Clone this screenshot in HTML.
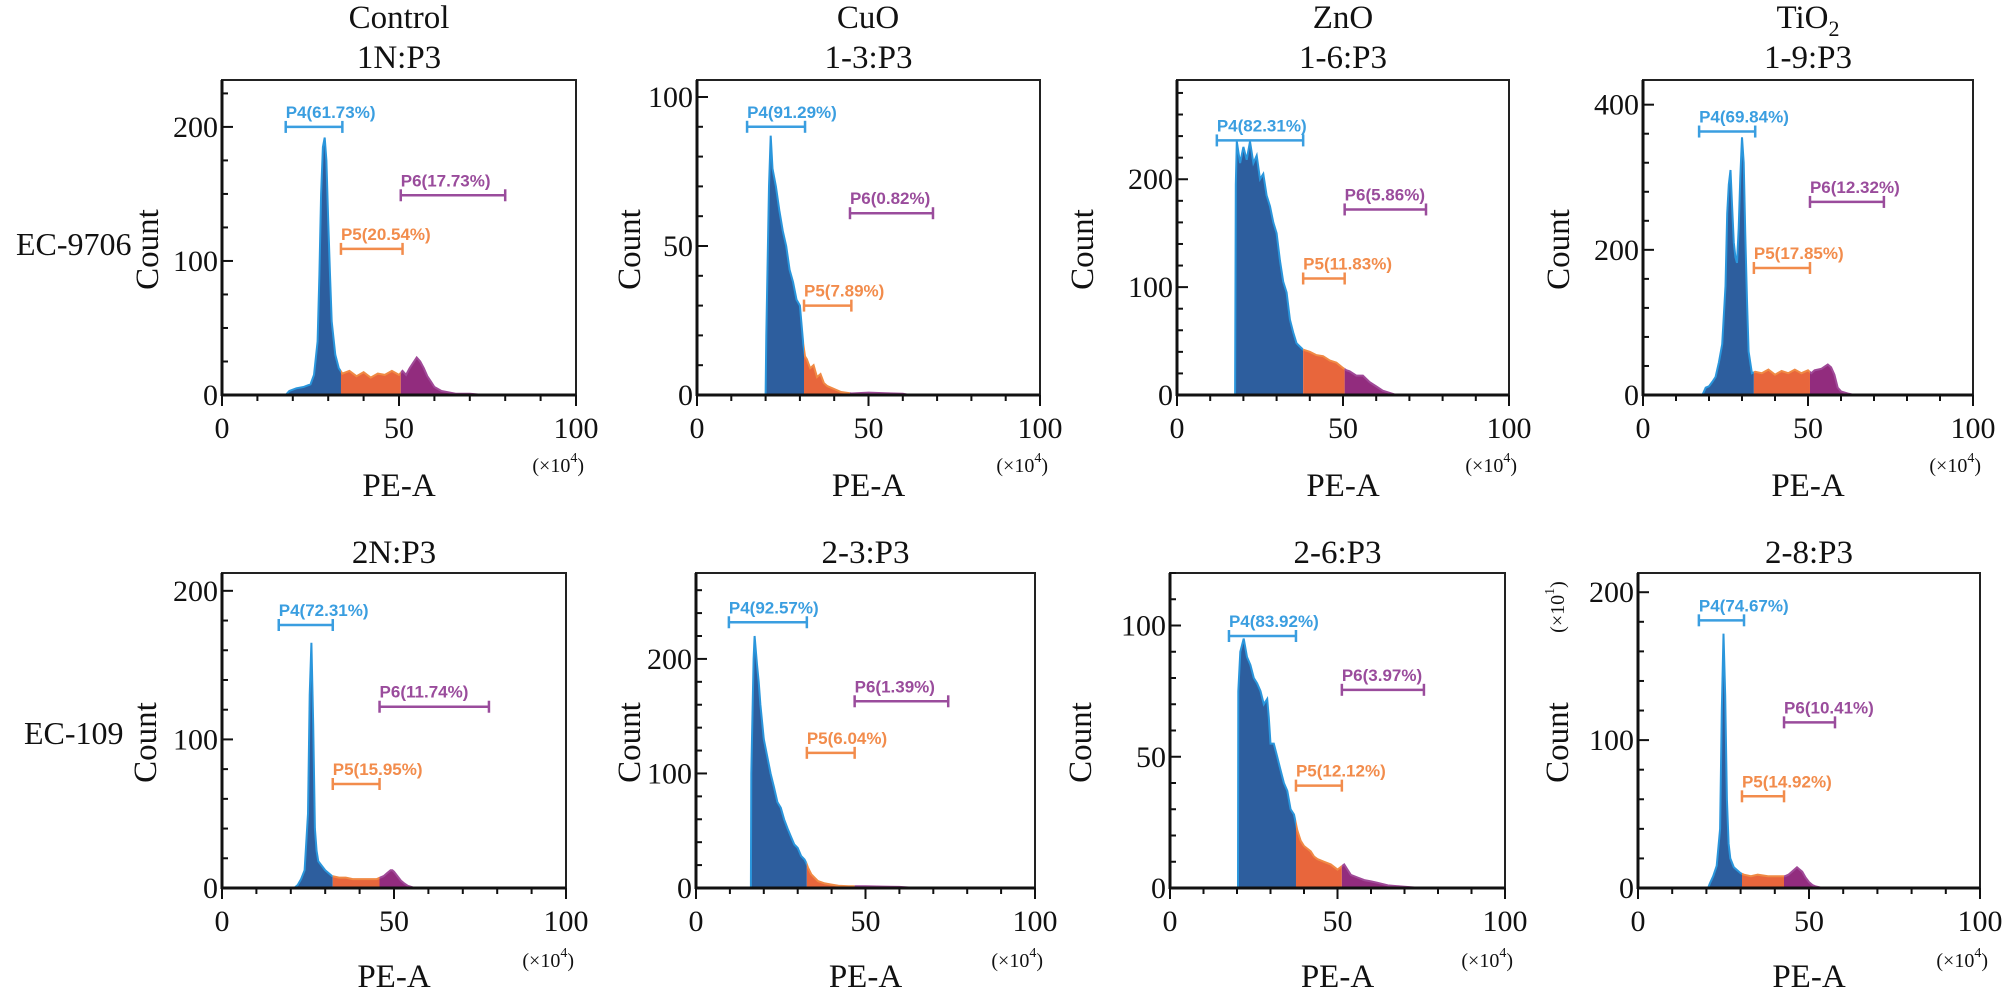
<!DOCTYPE html>
<html><head><meta charset="utf-8">
<style>
html,body{margin:0;padding:0;background:#fff;}
svg{display:block;}
.serif{font-family:"Liberation Serif",serif;fill:#111;}
.gate{font-family:"Liberation Sans",sans-serif;font-weight:bold;font-size:17px;}
</style></head>
<body>
<svg id="fig" width="2003" height="988" viewBox="0 0 2003 988" xmlns="http://www.w3.org/2000/svg">
<text class="serif" x="16" y="255" font-size="32">EC-9706</text>
<text class="serif" x="24" y="744" font-size="32">EC-109</text>
<text class="serif" x="399" y="28" font-size="33" text-anchor="middle">Control</text>
<text class="serif" x="868" y="28" font-size="33" text-anchor="middle">CuO</text>
<text class="serif" x="1343" y="28" font-size="33" text-anchor="middle">ZnO</text>
<text class="serif" x="1808" y="28" font-size="33" text-anchor="middle">TiO<tspan font-size="22" dy="8">2</tspan></text>
<g id="panels"></g>
</svg>
<script>
// ---- data (x in ×10^4 PE-A units, y in counts) ----
const xTickValues = [0, 50, 100];
const r1p1X = [18,19,21,23,25,26,27,27.5,28,28.5,29,29.5,30,30.5,31,32,33,34,36,38,40,42,44,46,48,50,51,52,53,54,55,56,57,58,59,60,62,64,66,70,74];
const r1p1Y = [0,3,5,6,8,15,40,90,150,185,192,175,130,90,55,30,20,16,18,14,17,13,16,15,18,15,18,15,20,24,28,25,20,14,10,6,3,2,1,1,0];
const r1p2X = [20,20.2,21,21.5,22,23,24,25,26,27,28,29,30,31,31.5,32,33,34,35,36,37,38,40,42,45,50,55,60,62];
const r1p2Y = [0,20,70,87,76,70,62,55,50,42,38,32,30,17,13,12,9,10,6,7,4,3,2,1,0.5,0.8,0.6,0.4,0];
const r1p3X = [17.5,17.7,18,19,20,21,22,23,24,25,26,27,28,29,30,31,32,33,34,35,36,37,38,40,42,44,46,48,50,51,52,54,56,58,60,62,64,66];
const r1p3Y = [0,195,235,215,230,218,235,215,222,200,205,185,175,160,150,125,105,95,70,58,48,45,42,40,37,36,32,30,25,23,22,18,18,12,8,4,2,0];
const r1p4X = [18,19,20,21,22,23,24,25,25.5,26,26.5,27,27.5,28,28.5,29,29.5,30,30.5,31,31.5,32,33,34,36,38,40,42,44,46,48,50,51,52,54,56,57,58,59,60,62,64];
const r1p4Y = [0,10,12,18,25,45,70,150,250,290,310,260,210,190,182,230,300,355,320,220,130,60,30,32,30,35,28,33,30,35,30,34,30,34,36,42,38,28,10,5,2,0];
const r2p1X = [21,22,23,24,25,25.5,26,26.5,27,27.5,28,30,31,32,34,36,38,40,42,44,45,46,47,48,49,49.5,50,51,52,53,54,56];
const r2p1Y = [0,2,6,12,50,130,165,110,40,25,18,12,10,8,7,7,6,6,6,6,6,7,8,10,12,12,11,8,5,3,1.5,0];
const r2p2X = [16.2,16.3,17,17.3,18,18.5,19,20,21,22,23,24,25,26,27,28,29,30,31,32,32.5,33,34,35,36,38,40,42,45,50,55,60,65];
const r2p2Y = [0,100,200,220,195,180,160,130,115,100,88,75,70,60,52,45,38,35,28,25,22,18,12,9,6,4,3,2,1.5,1.5,1.2,1,0];
const r2p3X = [20.3,20.4,21,22,23,24,25,26,27,28,29,29.5,30,31,32,33,34,35,36,37,38,39,40,41,42,43,44,46,48,50,51,52,53,54,56,58,60,62,65,70,75];
const r2p3Y = [0,75,90,95,88,85,80,78,75,70,72,65,55,55,50,45,40,37,30,28,22,18,16,15,14,12,11,10,9,7,8,9,7,5,4,3,2.5,2,1,0.5,0];
const r2p4X = [20.5,21,22,23,24,24.5,25,25.5,26,26.5,27,28,29,30,31,33,35,38,40,42,43,44,45,46,46.5,47,48,49,50,51,52,54];
const r2p4Y = [0,3,8,15,40,120,172,130,60,30,20,14,12,10,9,8,9,8,8,8,8,9,11,13,14,13,11,7,4,2,1,0];
// gates: [start, end, level]
const r1p1Gates = [[18,34,200],[33.6,51,109],[50.5,80,149]];
const r1p2Gates = [[14.6,31.5,90],[31.2,45,30],[44.6,68.8,61]];
const r1p3Gates = [[12,38,236],[38,50.5,108],[50.5,75,172]];
const r1p4Gates = [[17,34,363],[33.6,50.6,175],[50.6,73,266]];
const r2p1Gates = [[16.5,32.2,177],[32.2,45.8,70],[45.8,77.6,122]];
const r2p2Gates = [[9.7,32.7,232],[32.7,46.8,118],[46.8,74.4,163]];
const r2p3Gates = [[17.6,37.6,96],[37.6,51.3,39],[51.3,75.8,75.5]];
const r2p4Gates = [[17.8,31,181],[30.4,42.7,62],[42.7,57.6,112]];
const r1p1Labels = ["P4(61.73%)","P5(20.54%)","P6(17.73%)"];
const r1p2Labels = ["P4(91.29%)","P5(7.89%)","P6(0.82%)"];
const r1p3Labels = ["P4(82.31%)","P5(11.83%)","P6(5.86%)"];
const r1p4Labels = ["P4(69.84%)","P5(17.85%)","P6(12.32%)"];
const r2p1Labels = ["P4(72.31%)","P5(15.95%)","P6(11.74%)"];
const r2p2Labels = ["P4(92.57%)","P5(6.04%)","P6(1.39%)"];
const r2p3Labels = ["P4(83.92%)","P5(12.12%)","P6(3.97%)"];
const r2p4Labels = ["P4(74.67%)","P5(14.92%)","P6(10.41%)"];
const yMajor1 = [0,100,200];
const yMajor2 = [0,50,100];
const yMajor4 = [0,200,400];

const panels = [
 {id:"1n", title:"1N:P3", X:r1p1X, Y:r1p1Y, G:r1p1Gates, L:r1p1Labels, l:222, r:576, t:80, b:395, ymax:235, maj:yMajor1, minStep:25, cx:147, ty:68, tl:438, pe:496, mx:465},
 {id:"1-3", title:"1-3:P3", X:r1p2X, Y:r1p2Y, G:r1p2Gates, L:r1p2Labels, l:697, r:1040, t:80, b:395, ymax:105.7, maj:yMajor2, minStep:10, cx:629, ty:68, tl:438, pe:496, mx:465},
 {id:"1-6", title:"1-6:P3", X:r1p3X, Y:r1p3Y, G:r1p3Gates, L:r1p3Labels, l:1177, r:1509, t:80, b:395, ymax:292, maj:yMajor1, minStep:20, cx:1082, ty:68, tl:438, pe:496, mx:465},
 {id:"1-9", title:"1-9:P3", X:r1p4X, Y:r1p4Y, G:r1p4Gates, L:r1p4Labels, l:1643, r:1973, t:80, b:395, ymax:434, maj:yMajor4, minStep:40, cx:1558, ty:68, tl:438, pe:496, mx:465},
 {id:"2n", title:"2N:P3", X:r2p1X, Y:r2p1Y, G:r2p1Gates, L:r2p1Labels, l:222, r:566, t:573, b:888, ymax:212, maj:yMajor1, minStep:20, cx:145, ty:563, tl:931, pe:987, mx:960},
 {id:"2-3", title:"2-3:P3", X:r2p2X, Y:r2p2Y, G:r2p2Gates, L:r2p2Labels, l:696, r:1035, t:573, b:888, ymax:275, maj:yMajor1, minStep:20, cx:629, ty:563, tl:931, pe:987, mx:960},
 {id:"2-6", title:"2-6:P3", X:r2p3X, Y:r2p3Y, G:r2p3Gates, L:r2p3Labels, l:1170, r:1505, t:573, b:888, ymax:120, maj:yMajor2, minStep:10, cx:1080, ty:563, tl:931, pe:987, mx:960},
 {id:"2-8", title:"2-8:P3", X:r2p4X, Y:r2p4Y, G:r2p4Gates, L:r2p4Labels, l:1638, r:1980, t:573, b:888, ymax:213, maj:yMajor1, minStep:20, cx:1557, ty:563, tl:931, pe:987, mx:960, exp:true}
];

const NS = "http://www.w3.org/2000/svg";
const root = document.getElementById("panels");
function mk(tag, attrs, parent){
  const e = document.createElementNS(NS, tag);
  for (const k in attrs) e.setAttribute(k, attrs[k]);
  (parent||root).appendChild(e);
  return e;
}
const fills = ["#2d5e9e","#e8663c","#922c7e"];
const strokes = ["#2a96dc","#f08a45","#a04a98"];
const gateCols = ["#3a9ee0","#f28c4c","#9a4c9c"];

panels.forEach((p, pi) => {
  const g = mk("g", {});
  
  
  const xs = v => p.l + (v/100)*(p.r-p.l);
  const ys = v => p.b - (v/p.ymax)*(p.b-p.t);
  const tt = mk("text", {x:(p.l+p.r)/2, y:p.ty, "font-size":33, "text-anchor":"middle", class:"serif"}, g);
  tt.textContent = p.title;
  
  
  const bounds = [0, p.G[1][0], p.G[2][0], 100];
  const defs = mk("defs", {}, g);
  const pts = [[p.X[0],0]].concat(p.X.map((x,i)=>[x,p.Y[i]])).concat([[p.X[p.X.length-1],0]]);
  const ptsStr = pts.map(q=>xs(q[0]).toFixed(1)+","+ys(q[1]).toFixed(1)).join(" ");
  const lineStr = p.X.map((x,i)=>xs(x).toFixed(1)+","+ys(p.Y[i]).toFixed(1)).join(" ");
  for (let k=0;k<3;k++){
    const cid = "clip"+pi+"_"+k;
    const cp = mk("clipPath", {id:cid}, defs);
    mk("rect", {x:xs(bounds[k]), y:p.t, width:xs(bounds[k+1])-xs(bounds[k]), height:p.b-p.t}, cp);
    const area = mk("polygon", {points:ptsStr, fill:fills[k], "clip-path":"url(#"+cid+")"}, g);
    
    
    const ln = mk("polyline", {points:lineStr, fill:"none", stroke:strokes[k], "stroke-width":2, "clip-path":"url(#"+cid+")"}, g);
    
    
  }
  p.G.forEach((gt, k) => {
    const gg = mk("g", {stroke:gateCols[k], "stroke-width":2.5}, g);
    
    
    const x1 = xs(gt[0]), x2 = xs(gt[1]), y = ys(gt[2]);
    mk("line", {x1:x1, y1:y, x2:x2, y2:y}, gg);
    mk("line", {x1:x1, y1:y-6, x2:x1, y2:y+6}, gg);
    mk("line", {x1:x2, y1:y-6, x2:x2, y2:y+6}, gg);
    const lb = mk("text", {x:x1, y:y-9, fill:gateCols[k], class:"gate"}, g);
    lb.textContent = p.L[k];
    
    
  });
  const fr = mk("rect", {x:p.l, y:p.t, width:p.r-p.l, height:p.b-p.t, fill:"none", stroke:"#222", "stroke-width":2}, g);
  
  
  const ax = mk("line", {x1:p.l, y1:p.b, x2:p.r, y2:p.b, stroke:"#111", "stroke-width":3}, g);
  
  
  const ay = mk("line", {x1:p.l, y1:p.t, x2:p.l, y2:p.b+1, stroke:"#111", "stroke-width":3}, g);
  
  
  for (let v=0; v<=100; v+=10){
    const major = v%50===0;
    mk("line", {x1:xs(v), y1:p.b, x2:xs(v), y2:p.b+(major?11:6), stroke:"#111", "stroke-width":2}, g);
  }
  xTickValues.forEach(v => {
    const t = mk("text", {x:xs(v), y:p.tl, "font-size":30, "text-anchor":"middle", class:"serif"}, g);
    t.textContent = v;
    
    
  });
  for (let v=0; v<=p.ymax; v+=p.minStep){
    const major = p.maj.indexOf(v) >= 0;
    mk("line", {x1:p.l, y1:ys(v), x2:p.l+(major?11:6), y2:ys(v), stroke:"#111", "stroke-width":2}, g);
  }
  p.maj.forEach(v => {
    const t = mk("text", {x:p.l-4, y:ys(v)+10, "font-size":30, "text-anchor":"end", class:"serif"}, g);
    t.textContent = v;
    
    
  });
  const pe = mk("text", {x:(p.l+p.r)/2, y:p.pe, "font-size":33, "text-anchor":"middle", class:"serif"}, g);
  pe.textContent = "PE-A";
  
  
  const mult = mk("text", {x:p.r+8, y:p.mx+7, "font-size":20, "text-anchor":"end", class:"serif"}, g);
  mult.innerHTML = '(×10<tspan dy="-10" font-size="14">4</tspan><tspan dy="10">)</tspan>';
  
  
  const cy = (p.t+p.b)/2 + 12;
  const ct = mk("text", {x:p.cx, y:cy, "font-size":33, "text-anchor":"middle", class:"serif", transform:"rotate(-90 "+p.cx+" "+cy+") translate(0 11)"}, g);
  ct.textContent = "Count";
  
  
  if (p.exp){
    const ey = 607;
    const e = mk("text", {x:p.cx, y:ey, "font-size":20, "text-anchor":"middle", class:"serif", transform:"rotate(-90 "+p.cx+" "+ey+") translate(0 7)"}, g);
    e.innerHTML = '(×10<tspan dy="-10" font-size="14">1</tspan><tspan dy="10">)</tspan>';
    
    
  }
});
</script>
</body></html>
